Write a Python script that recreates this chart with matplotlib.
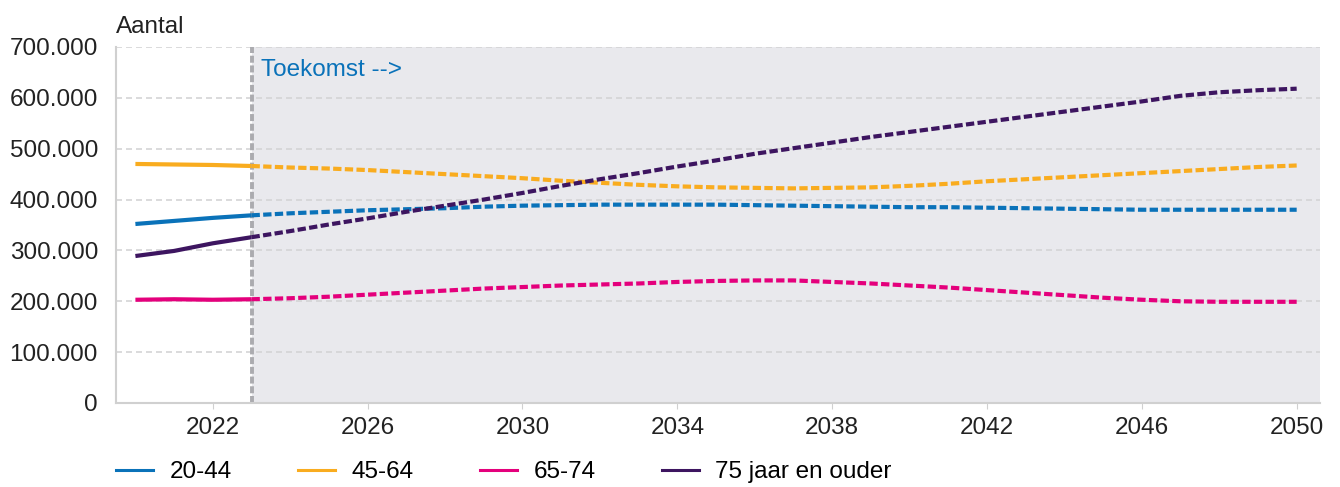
import numpy as np
import matplotlib.pyplot as plt
from matplotlib.ticker import FuncFormatter

# --- Data ---
years = [2020, 2021, 2022, 2023, 2024, 2025, 2026, 2027, 2028, 2029, 2030,
         2031, 2032, 2033, 2034, 2035, 2036, 2037, 2038, 2039, 2040,
         2041, 2042, 2043, 2044, 2045, 2046, 2047, 2048, 2049, 2050]

age_20_44 = [352000, 358000, 364000, 369000, 373000, 376000, 379000, 381000, 383000, 386000, 388000,
             389000, 390000, 390000, 390000, 390000, 389000, 388000, 387000, 386000, 385000,
             385000, 384000, 383000, 382000, 381000, 380000, 380000, 380000, 380000, 380000]
age_45_64 = [470000, 469000, 468000, 466000, 463000, 461000, 458000, 454000, 450000, 446000, 442000,
             437000, 433000, 429000, 426000, 424000, 423000, 422000, 423000, 424000, 427000,
             431000, 436000, 440000, 444000, 448000, 452000, 456000, 460000, 464000, 467000]
age_65_74 = [203000, 204000, 203000, 204000, 206000, 209000, 213000, 217000, 221000, 225000, 228000,
             231000, 233000, 235000, 238000, 240000, 241000, 241000, 238000, 235000, 231000,
             227000, 222000, 217000, 212000, 207000, 203000, 200000, 199000, 199000, 199000]
age_75_plus = [289000, 299000, 314000, 326000, 338000, 351000, 363000, 376000, 388000, 400000, 413000,
               427000, 440000, 452000, 465000, 477000, 490000, 501000, 512000, 523000, 533000,
               543000, 553000, 563000, 573000, 583000, 593000, 604000, 611000, 615000, 618000]

labels = ['20-44', '45-64', '65-74', '75 jaar en ouder']
colors = ['#0a72b9', '#f9ac1f', '#e4007c', '#3d1560']
forecast_start = 2023

plt.rcParams['font.family'] = ['Liberation Sans', 'DejaVu Sans']
FS = 17.5

fig = plt.figure(figsize=(13.4, 4.87), dpi=100)
ax = fig.add_axes([0.0866, 0.1725, 0.8984, 0.731])

yrs = np.array(years)
hist = yrs <= forecast_start
fut = yrs >= forecast_start

# shaded future area
ax.axvspan(forecast_start, 2050.6, color='#e9e9ed', zorder=0, lw=0)

series = [age_20_44, age_45_64, age_65_74, age_75_plus]
for vals, lab, col in zip(series, labels, colors):
    v = np.array(vals)
    ax.plot(yrs[hist], v[hist], color=col, lw=3.0, solid_capstyle='butt', zorder=3)
    ax.plot(yrs[fut], v[fut], color=col, lw=3.0, dashes=(2.0, 0.8), zorder=3)
    ax.plot([], [], color=col, lw=2.2, label=lab)

# forecast divider
ax.axvline(forecast_start, color='#ababaf', lw=2.8, dashes=(1.8, 0.7), zorder=2)

ax.text(forecast_start + 0.25, 655000, 'Toekomst -->', color='#0a72b9', fontsize=FS,
        va='center', ha='left')

ax.set_xlim(2019.5, 2050.6)
ax.set_ylim(0, 700000)
ax.set_yticks(np.arange(0, 700001, 100000))
ax.yaxis.set_major_formatter(FuncFormatter(lambda v, p: f'{int(v):,}'.replace(',', '.')))
ax.set_xticks(np.arange(2022, 2051, 4))

for y in np.arange(100000, 700001, 100000):
    ax.axhline(y, color='#d4d4d6', lw=1.2, dashes=(3.6, 2.4), zorder=1)

for s in ['top', 'right']:
    ax.spines[s].set_visible(False)
ax.spines['left'].set_color('#d0d0d0')
ax.spines['bottom'].set_color('#d0d0d0')
ax.spines['left'].set_linewidth(1.5)
ax.spines['bottom'].set_linewidth(1.5)
ax.tick_params(axis='y', length=0, labelsize=FS, colors='#222222', pad=13)
ax.tick_params(axis='x', length=4, color='#d0d0d0', labelsize=FS, labelcolor='#222222', pad=6)

fig.text(0.0866, 0.945, 'Aantal', fontsize=FS, color='#222222', ha='left', va='center')

fig.legend(loc='center left', bbox_to_anchor=(0.0705, 0.03), ncol=4, frameon=False,
           fontsize=FS, handlelength=1.52, handletextpad=0.66, columnspacing=2.75)

fig.savefig('out.png', dpi=100)
